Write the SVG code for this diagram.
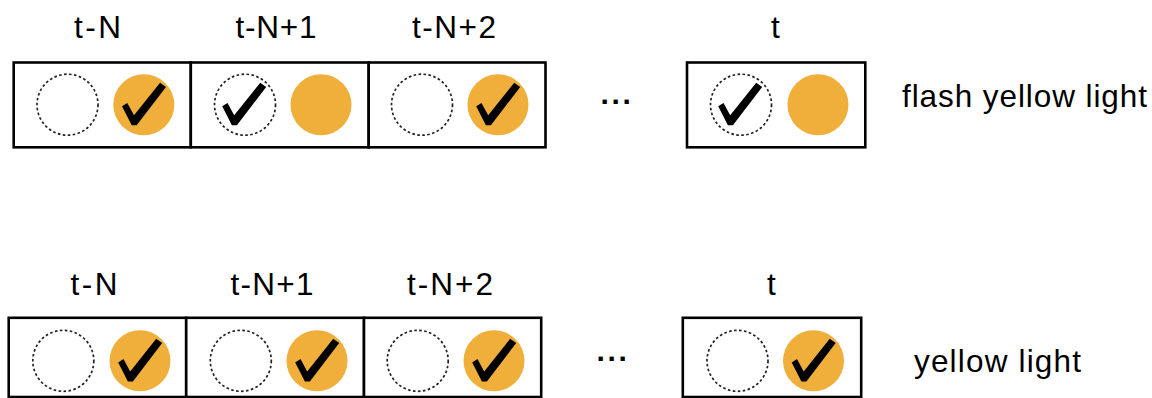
<svg xmlns="http://www.w3.org/2000/svg" xmlns:xlink="http://www.w3.org/1999/xlink" width="1152" height="398" viewBox="0 0 1152 398">
<style>
.box{fill:#fff;stroke:#000;stroke-width:2.6}
.dash{fill:none;stroke:#222;stroke-width:1.7;stroke-dasharray:2.6 2.4}
.fill{fill:#EFAF3A}
.chk{fill:#000}
.lbl{font-family:"Liberation Sans",Arial,Helvetica,sans-serif;font-size:31.5px;fill:#000}
.dots{font-family:"Liberation Sans",Arial,sans-serif;font-size:30px;font-weight:bold;fill:#000;letter-spacing:2.7px}
</style>
<defs>
<path id="chk" d="M-21.8,1.6 L-16.5,-1.7 L-9.8,10.6 L16.2,-22 L22.2,-17.7 L-7.1,20.6 L-12.1,20.6 Z"/>
</defs>
<rect width="1152" height="398" fill="#fff"/>

<!-- top row -->
<g id="top-labels">
<text class="lbl" x="74" y="38.3" textLength="47" lengthAdjust="spacing">t-N</text>
<text class="lbl" x="235.5" y="38.3" textLength="81" lengthAdjust="spacing">t-N+1</text>
<text class="lbl" x="412" y="38.3" textLength="84" lengthAdjust="spacing">t-N+2</text>
<text class="lbl" x="771" y="38.3">t</text>
</g>
<g id="top-cell-1">
<rect class="box" x="13.7" y="62.5" width="177.1" height="84.8"/>
<circle class="dash" cx="67.5" cy="104.7" r="30.5"/>
<circle class="fill" cx="143.8" cy="104.7" r="30.5"/>
<use xlink:href="#chk" class="chk" x="143.8" y="104.7"/>
</g>
<g id="top-cell-2">
<rect class="box" x="190.8" y="62.5" width="177.9" height="84.8"/>
<circle class="dash" cx="245" cy="104.7" r="30.5"/>
<use xlink:href="#chk" class="chk" x="244" y="104.7"/>
<circle class="fill" cx="321" cy="104.7" r="30.5"/>
</g>
<g id="top-cell-3">
<rect class="box" x="368.7" y="62.5" width="176.8" height="84.8"/>
<circle class="dash" cx="422" cy="104.7" r="30.5"/>
<circle class="fill" cx="498" cy="104.7" r="30.5"/>
<use xlink:href="#chk" class="chk" x="498" y="104.7"/>
</g>
<g id="top-ellipsis">
<text class="dots" x="600.5" y="104.4">...</text>
</g>
<g id="top-cell-t">
<rect class="box" x="687" y="62.5" width="178.3" height="84.8"/>
<circle class="dash" cx="741" cy="104.7" r="30.5"/>
<use xlink:href="#chk" class="chk" x="740" y="104.7"/>
<circle class="fill" cx="818" cy="104.7" r="30.5"/>
</g>
<g id="top-result">
<text class="lbl" x="902" y="106.7" textLength="245" lengthAdjust="spacing">flash yellow light</text>
</g>

<!-- bottom row -->
<g id="bottom-labels">
<text class="lbl" x="70.5" y="295" textLength="47" lengthAdjust="spacing">t-N</text>
<text class="lbl" x="230.5" y="295" textLength="83" lengthAdjust="spacing">t-N+1</text>
<text class="lbl" x="407" y="295" textLength="86" lengthAdjust="spacing">t-N+2</text>
<text class="lbl" x="767" y="295">t</text>
</g>
<g id="bottom-cell-1">
<rect class="box" x="8.7" y="317.8" width="177.5" height="79.2"/>
<circle class="dash" cx="63.3" cy="360.8" r="30.5"/>
<circle class="fill" cx="140" cy="360.8" r="30.5"/>
<use xlink:href="#chk" class="chk" x="140" y="360.8"/>
</g>
<g id="bottom-cell-2">
<rect class="box" x="186.2" y="317.8" width="177.8" height="79.2"/>
<circle class="dash" cx="240.8" cy="360.8" r="30.5"/>
<circle class="fill" cx="317" cy="360.8" r="30.5"/>
<use xlink:href="#chk" class="chk" x="317" y="360.8"/>
</g>
<g id="bottom-cell-3">
<rect class="box" x="364" y="317.8" width="177.2" height="79.2"/>
<circle class="dash" cx="417.7" cy="360.8" r="30.5"/>
<circle class="fill" cx="494" cy="360.8" r="30.5"/>
<use xlink:href="#chk" class="chk" x="494" y="360.8"/>
</g>
<g id="bottom-ellipsis">
<text class="dots" x="596.5" y="360.6">...</text>
</g>
<g id="bottom-cell-t">
<rect class="box" x="682.8" y="317.8" width="178.4" height="79.2"/>
<circle class="dash" cx="737.5" cy="360.8" r="30.5"/>
<circle class="fill" cx="813.5" cy="360.8" r="30.5"/>
<use xlink:href="#chk" class="chk" x="813.5" y="360.8"/>
</g>
<g id="bottom-result">
<text class="lbl" x="914" y="372" textLength="167" lengthAdjust="spacing">yellow light</text>
</g>
<g id="connectors"></g>
</svg>
